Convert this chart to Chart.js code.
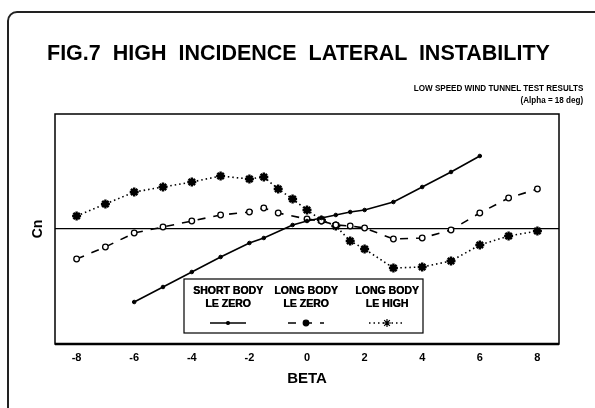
<!DOCTYPE html>
<html>
<head>
<meta charset="utf-8">
<script src="https://cdn.jsdelivr.net/npm/chart.js@4.4.1/dist/chart.umd.min.js"></script>
<style>
  html,body{margin:0;padding:0;background:#fff;}
  #wrap{position:relative;width:595px;height:408px;overflow:hidden;}
  #frame{position:absolute;left:7px;top:11px;width:600px;height:420px;border:2px solid #222;border-radius:10px;box-sizing:border-box;}
  canvas{position:absolute;left:0;top:0;}
  .t{position:absolute;font-family:"Liberation Sans",Arial,sans-serif;font-weight:bold;color:#000;white-space:pre;}
  #title{left:47px;top:41px;font-size:21.5px;}
  #sub1{right:12px;top:83px;font-size:8.8px;transform:scaleX(0.92);transform-origin:right center;}
  #sub2{right:12px;top:95px;font-size:8.8px;transform:scaleX(0.92);transform-origin:right center;}
</style>
</head>
<body>
<div id="wrap">
  <div id="frame"></div>
  <canvas id="c" width="595" height="408"></canvas>
  <div class="t" id="title">FIG.7  HIGH  INCIDENCE  LATERAL  INSTABILITY</div>
  <div class="t" id="sub1">LOW SPEED WIND TUNNEL TEST RESULTS</div>
  <div class="t" id="sub2">(Alpha = 18 deg)</div>
</div>
<script>
// ---- data ----
const betaShort = [-6,-5,-4,-3,-2,-1.5,-0.5,0,0.5,1,1.5,2,3,4,5,6];
const cnShortLeZero = [-0.73,-0.58,-0.43,-0.28,-0.14,-0.09,0.04,0.08,0.11,0.14,0.17,0.19,0.27,0.42,0.57,0.73];

const betaLongZero = [-8,-7,-6,-5,-4,-3,-2,-1.5,-1,0,0.5,1,1.5,2,3,4,5,6,7,8];
const cnLongLeZero = [-0.30,-0.18,-0.04,0.02,0.08,0.14,0.17,0.21,0.16,0.10,0.08,0.04,0.03,0.01,-0.10,-0.09,-0.01,0.16,0.31,0.40];

const betaLongHigh = [-8,-7,-6,-5,-4,-3,-2,-1.5,-1,-0.5,0,0.5,1,1.5,2,3,4,5,6,7,8];
const cnLongLeHigh = [0.13,0.25,0.37,0.42,0.47,0.53,0.50,0.52,0.40,0.30,0.19,0.09,0.03,-0.12,-0.20,-0.39,-0.38,-0.32,-0.16,-0.07,-0.02];

const betaTicks = [-8,-6,-4,-2,0,2,4,6,8];
const seriesLabels = [["SHORT BODY","LE ZERO"],["LONG BODY","LE ZERO"],["LONG BODY","LE HIGH"]];

const toXY = (xs, ys) => xs.map((x, i) => ({x: x, y: ys[i]}));

const frameAndLegend = {
  id: 'frameAndLegend',
  afterDatasetsDraw(chart) {
    const ctx = chart.ctx, a = chart.chartArea;
    ctx.save();
    ctx.strokeStyle = '#000';
    ctx.lineWidth = 1.5;
    ctx.strokeRect(a.left, a.top, a.right - a.left, a.bottom - a.top);
    ctx.lineWidth = 2.5;
    ctx.beginPath(); ctx.moveTo(a.left, a.bottom); ctx.lineTo(a.right, a.bottom); ctx.stroke();
    // legend box
    const bx = 184, by = 279, bw = 239, bh = 54;
    ctx.fillStyle = '#fff';
    ctx.fillRect(bx, by, bw, bh);
    ctx.lineWidth = 1.2;
    ctx.strokeRect(bx, by, bw, bh);
    const cols = [228, 306, 387];
    ctx.fillStyle = '#000';
    ctx.font = 'bold 10.5px "Liberation Sans", Arial, sans-serif';
    ctx.textAlign = 'center';
    ctx.textBaseline = 'middle';
    chart.data.datasets.forEach((ds, i) => {
      const cx = cols[i];
      ds.label.forEach((line, j) => {
        ctx.fillText(line, cx, 291 + j * 13.5);
        ctx.fillText(line, cx + 0.4, 291 + j * 13.5);
      });
      ctx.save();
      ctx.strokeStyle = ds.borderColor;
      ctx.lineWidth = ds.borderWidth;
      ctx.setLineDash(ds.borderDash || []);
      ctx.beginPath(); ctx.moveTo(cx - 18, 323); ctx.lineTo(cx + 18, 323); ctx.stroke();
      ctx.restore();
      Chart.helpers.drawPoint(ctx, {
        pointStyle: ds.pointStyle, radius: ds.legendRadius, rotation: 0,
        borderWidth: ds.pointBorderWidth
      }, cx, 323);
    });
    ctx.restore();
  }
};

new Chart(document.getElementById('c'), {
  type: 'line',
  data: {
    datasets: [
      {
        label: seriesLabels[0], data: toXY(betaShort, cnShortLeZero),
        borderColor: '#000', borderWidth: 1.6, pointStyle: 'circle', pointRadius: 1.8,
        pointBackgroundColor: '#000', pointBorderColor: '#000', pointBorderWidth: 1, legendRadius: 1.5
      },
      {
        label: seriesLabels[1], data: toXY(betaLongZero, cnLongLeZero),
        borderColor: '#000', borderWidth: 1.6, borderDash: [8, 8], pointStyle: 'circle', pointRadius: 2.8,
        pointBackgroundColor: '#fff', pointBorderColor: '#000', pointBorderWidth: 1.3, legendRadius: 2.8
      },
      {
        label: seriesLabels[2], data: toXY(betaLongHigh, cnLongLeHigh),
        borderColor: '#000', borderWidth: 1.6, borderDash: [1.5, 3], pointStyle: 'star', pointRadius: 4.5,
        pointBackgroundColor: '#000', pointBorderColor: '#000', pointBorderWidth: 2.4, legendRadius: 4
      }
    ]
  },
  options: {
    responsive: false,
    animation: false,
    events: [],
    layout: {padding: {left: 26, right: 36, top: 114, bottom: 18}},
    plugins: {legend: {display: false}, tooltip: {enabled: false}, title: {display: false}},
    scales: {
      x: {
        type: 'linear', min: -8.75, max: 8.75,
        afterBuildTicks: (s) => { s.ticks = betaTicks.map(v => ({value: v})); },
        afterFit: (s) => { s.height = 46; },
        grid: {display: false, drawTicks: false},
        border: {display: false},
        ticks: {padding: 7, color: '#000', font: {family: '"Liberation Sans", Arial, sans-serif', weight: 'bold', size: 11}},
        title: {display: true, text: 'BETA', color: '#000', padding: {top: 0, bottom: 2}, font: {family: '"Liberation Sans", Arial, sans-serif', weight: 'bold', size: 15}}
      },
      y: {
        type: 'linear', min: -1.15, max: 1.15,
        afterBuildTicks: (s) => { s.ticks = [{value: 0}]; },
        afterFit: (s) => { s.width = 29; },
        ticks: {display: false},
        grid: {color: '#000', lineWidth: 1.2, drawTicks: false},
        border: {display: false},
        title: {display: true, text: 'Cn', color: '#000', padding: {bottom: 6}, font: {family: '"Liberation Sans", Arial, sans-serif', weight: 'bold', size: 14}}
      }
    }
  },
  plugins: [frameAndLegend]
});
</script>
</body>
</html>
